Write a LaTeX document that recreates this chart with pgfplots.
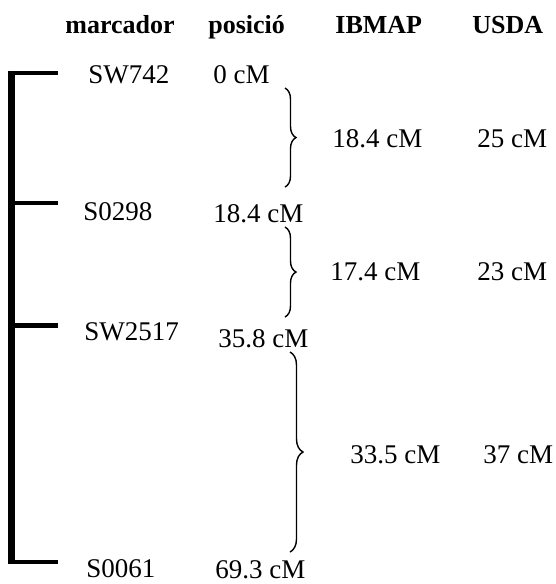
\documentclass[border=0pt]{standalone}
\usepackage{pgfplots}
\pgfplotsset{compat=1.18}
\usepackage{fontspec}
\setmainfont{Liberation Serif}
\usetikzlibrary{decorations.pathreplacing}
\tikzset{
  lab/.style={anchor=base west, inner sep=0pt, font=\fontsize{13.5pt}{16pt}\selectfont},
  hd/.style={anchor=base west, inner sep=0pt, font=\fontsize{13pt}{15pt}\selectfont\bfseries},
}
\begin{document}
\begin{tikzpicture}
\begin{axis}[
  scale only axis, width=278pt, height=292pt,
  xmin=0, xmax=556, ymin=-10.35, ymax=72.42, y dir=reverse,
  hide axis, clip=false,
]
\path (rel axis cs:0,0) rectangle (rel axis cs:1,1);
% chromosome backbone (x in px, y in cM)
\addplot[black, line width=3.3pt, line cap=butt] coordinates {(11.5,-0.3) (11.5,69.6)};
% marker ticks
\addplot[black, line width=2.3pt, line cap=butt] coordinates {(8,0) (58,0)};
\addplot[black, line width=2.3pt, line cap=butt] coordinates {(8,18.4) (58,18.4)};
\addplot[black, line width=2.3pt, line cap=butt] coordinates {(8,35.8) (58,35.8)};
\addplot[black, line width=2.3pt, line cap=butt] coordinates {(8,69.3) (58,69.3)};
% headers
\node[hd] at (axis cs:65,-5.67) {marcador};
\node[hd] at (axis cs:208,-5.67) {posició};
\node[hd] at (axis cs:335,-5.67) {IBMAP};
\node[hd] at (axis cs:472,-5.67) {USDA};
% markers
\node[lab] at (axis cs:88,1.42) {SW742};
\node[lab] at (axis cs:83,20.83) {S0298};
\node[lab] at (axis cs:84,37.84) {SW2517};
\node[lab] at (axis cs:86,71.43) {S0061};
% positions
\node[lab] at (axis cs:213,1.42) {0 cM};
\node[lab] at (axis cs:213,21.12) {18.4 cM};
\node[lab] at (axis cs:218,38.83) {35.8 cM};
\node[lab] at (axis cs:215,71.71) {69.3 cM};
% braces
\draw[line width=0.7pt, decorate, decoration={brace, amplitude=5.5pt}] (axis cs:285,2.13) -- (axis cs:285,16.16);
\draw[line width=0.7pt, decorate, decoration={brace, amplitude=5.5pt}] (axis cs:285,21.83) -- (axis cs:285,34.58);
\draw[line width=0.7pt, decorate, decoration={brace, amplitude=6.5pt}] (axis cs:290,39.54) -- (axis cs:290,67.89);
% intervals
\node[lab] at (axis cs:332,10.49) {18.4 cM};
\node[lab] at (axis cs:477,10.49) {25 cM};
\node[lab] at (axis cs:330,29.34) {17.4 cM};
\node[lab] at (axis cs:477,29.34) {23 cM};
\node[lab] at (axis cs:350,55.27) {33.5 cM};
\node[lab] at (axis cs:483,55.27) {37 cM};
\end{axis}
\end{tikzpicture}
\end{document}
